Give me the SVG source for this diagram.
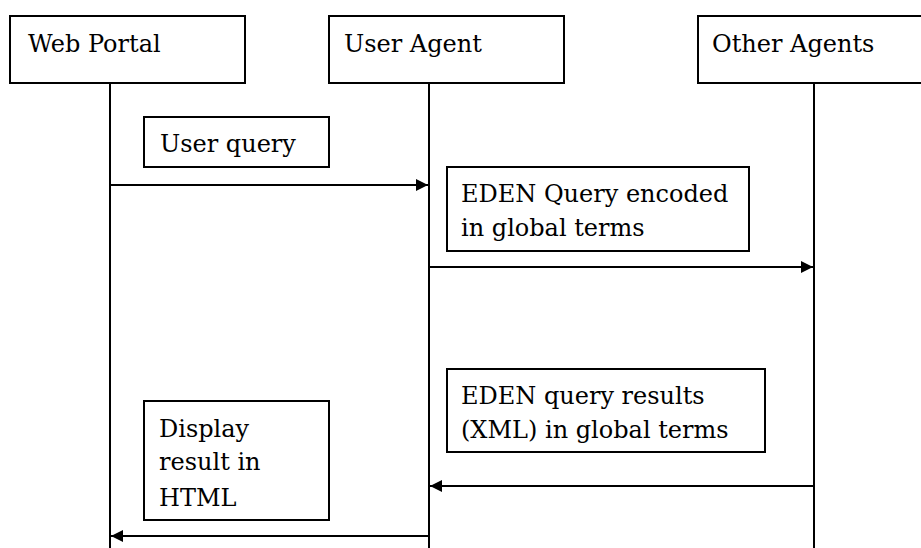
<svg xmlns="http://www.w3.org/2000/svg" width="921" height="548" viewBox="0 0 921 548">
<defs>
<style>
.box{fill:#fff;stroke:#000;stroke-width:2}
.life{stroke:#000;stroke-width:2;fill:none}
.msg{stroke:#000;stroke-width:2;fill:none}
.t{font-family:'DejaVu Serif',serif;font-size:24px;fill:#000}
</style>
<marker id="ah" viewBox="0 0 10 10" refX="10" refY="5" markerWidth="12" markerHeight="12" markerUnits="userSpaceOnUse" orient="auto">
<path d="M0,0 L10,5 L0,10 Z" fill="#000"/>
</marker>
</defs>
<rect width="921" height="548" fill="#fff"/>
<g id="lifelines">
<line class="life" x1="110" y1="83" x2="110" y2="548"/>
<line class="life" x1="429" y1="83" x2="429" y2="548"/>
<line class="life" x1="814" y1="83" x2="814" y2="548"/>
</g>
<g id="web-portal">
<rect class="box" x="10" y="16" width="235" height="67"/>
<text class="t" x="28" y="52">Web Portal</text>
</g>
<g id="user-agent">
<rect class="box" x="329" y="16" width="235" height="67"/>
<text class="t" x="344" y="52">User Agent</text>
</g>
<g id="other-agents">
<rect class="box" x="698" y="16" width="240" height="67"/>
<text class="t" x="712" y="52">Other Agents</text>
</g>
<g id="label-user-query">
<rect class="box" x="144" y="117" width="185" height="50"/>
<text class="t" x="160" y="152">User query</text>
</g>
<g id="label-eden-query">
<rect class="box" x="447" y="167" width="302" height="84"/>
<text class="t" x="461" y="202">EDEN Query encoded</text>
<text class="t" x="461" y="236">in global terms</text>
</g>
<g id="label-eden-results">
<rect class="box" x="447" y="369" width="318" height="83"/>
<text class="t" x="461" y="404">EDEN query results</text>
<text class="t" x="461" y="438">(XML) in global terms</text>
</g>
<g id="label-display">
<rect class="box" x="144" y="401" width="185" height="119"/>
<text class="t" x="159" y="437">Display</text>
<text class="t" x="159" y="470">result in</text>
<text class="t" x="159" y="506">HTML</text>
</g>
<g id="connectors">
<line class="msg" x1="110" y1="185" x2="428" y2="185" marker-end="url(#ah)"/>
<line class="msg" x1="429" y1="267" x2="813" y2="267" marker-end="url(#ah)"/>
<line class="msg" x1="814" y1="486" x2="430" y2="486" marker-end="url(#ah)"/>
<line class="msg" x1="429" y1="536" x2="111" y2="536" marker-end="url(#ah)"/>
</g>
</svg>
